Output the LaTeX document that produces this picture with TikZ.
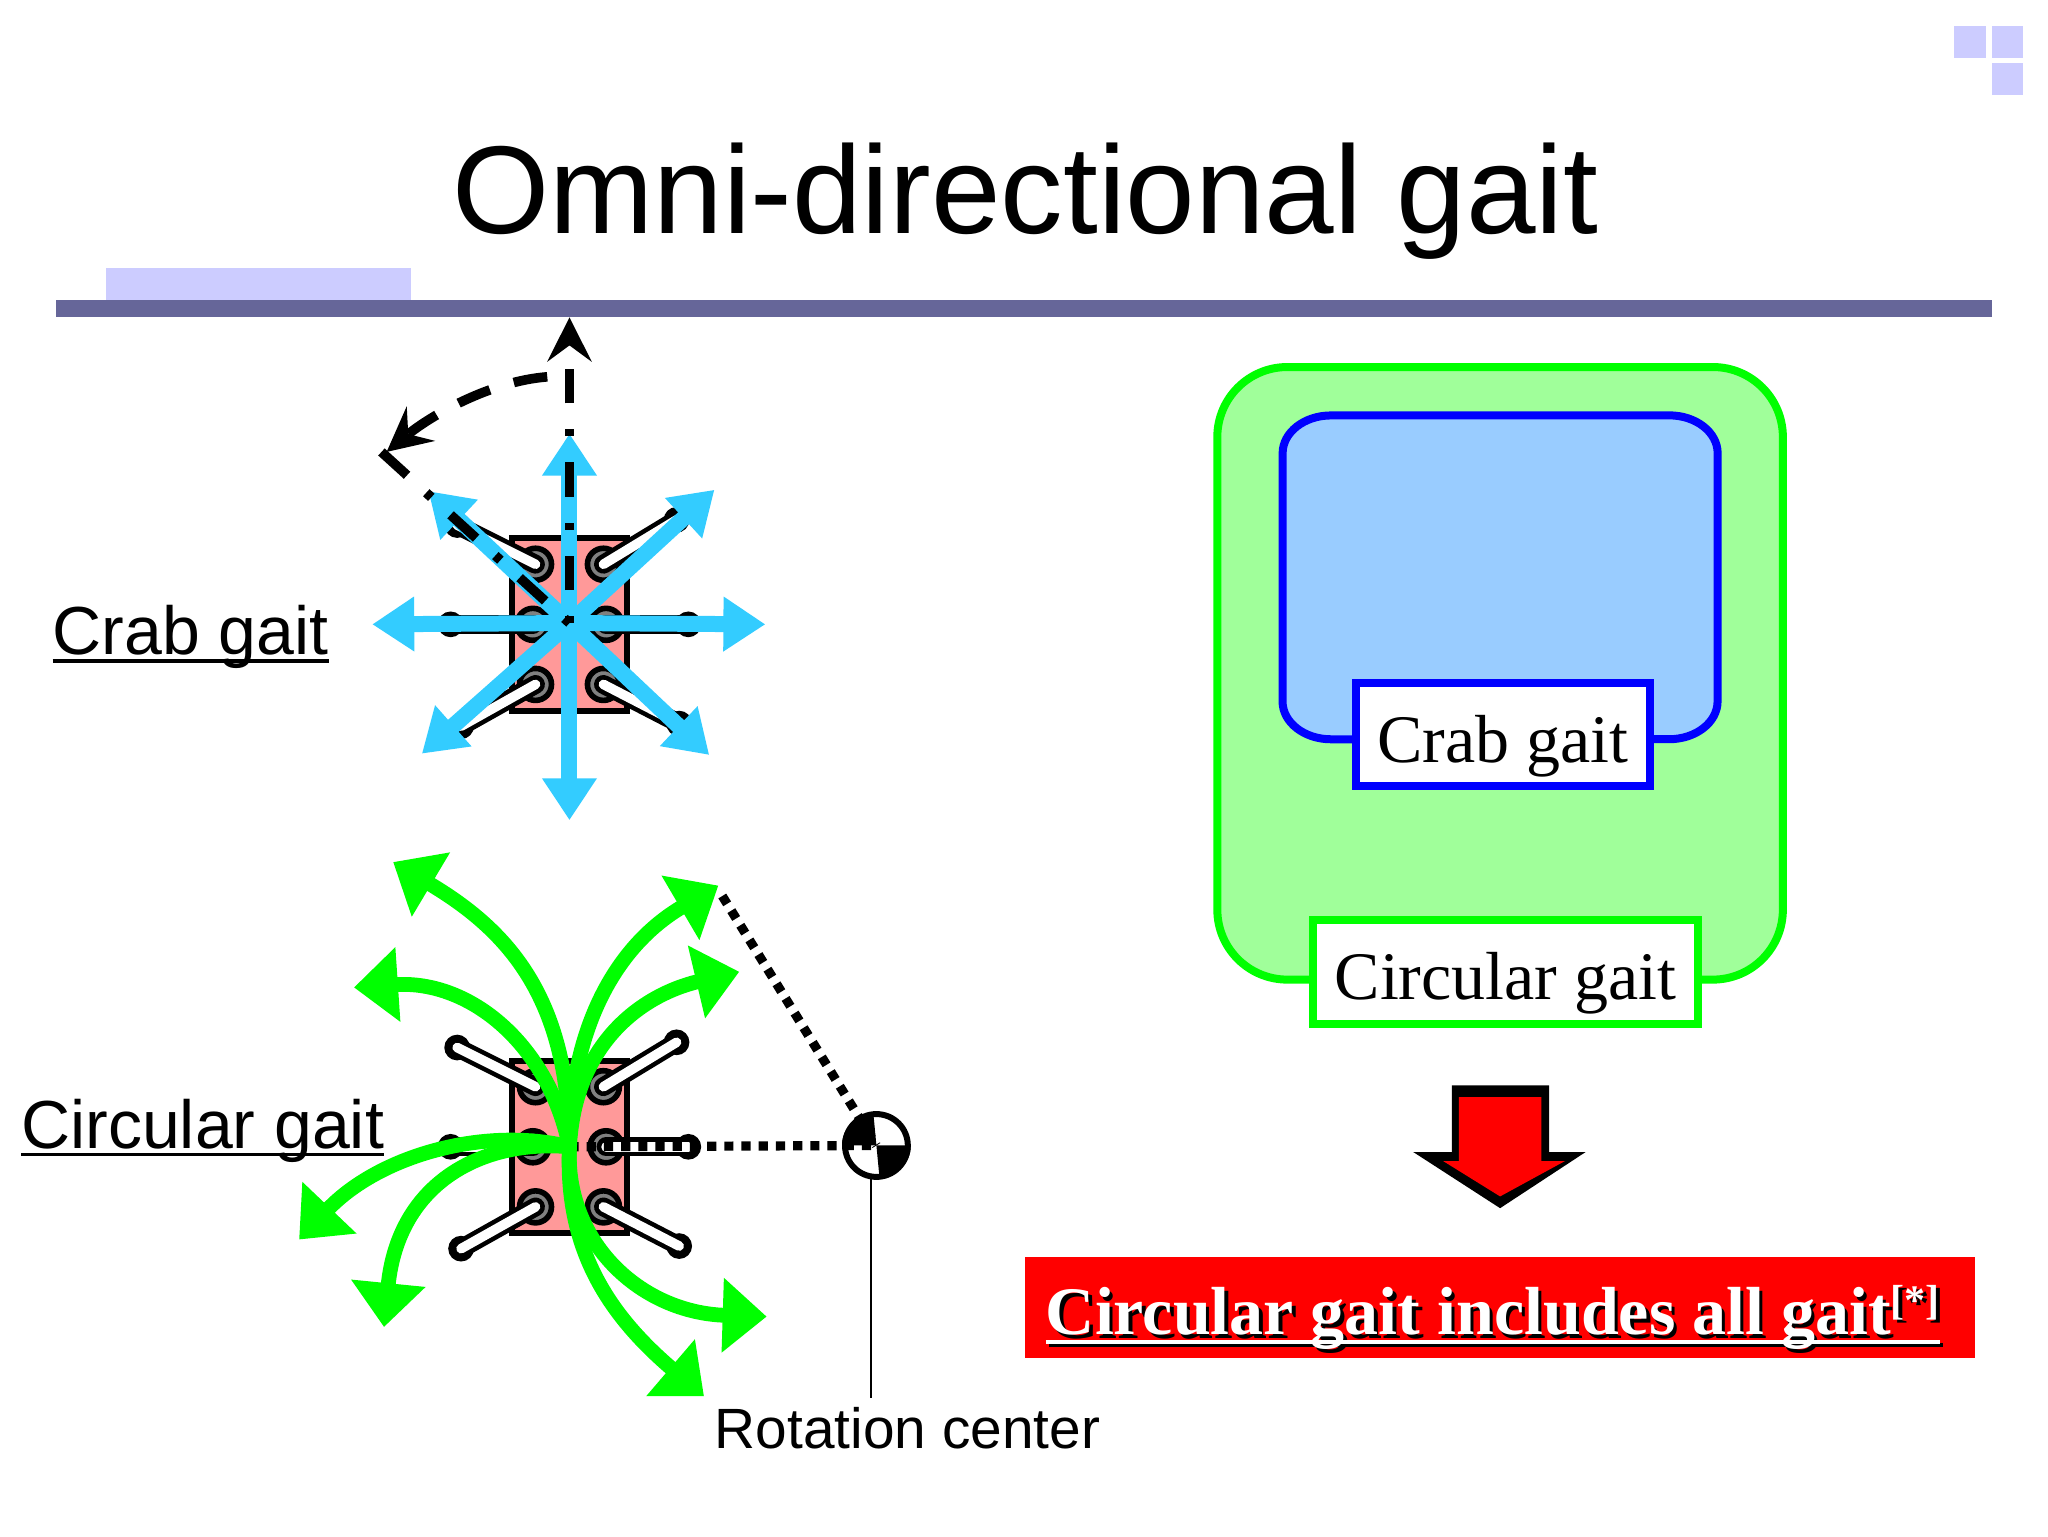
\documentclass[tikz,border=0pt]{standalone}
\usepackage{fontspec}
\setmainfont{Liberation Sans}
\newfontfamily\serifx{Liberation Serif}
\usetikzlibrary{arrows.meta}
\definecolor{rulec}{HTML}{666699}
\definecolor{lav}{HTML}{CCCCFF}
\definecolor{bluea}{HTML}{33CCFF}
\definecolor{greena}{HTML}{00FF00}
\definecolor{bodyc}{HTML}{FF9999}
\definecolor{greenfill}{HTML}{A0FF9A}
\definecolor{bluefill}{HTML}{99CCFF}
\definecolor{blueline}{HTML}{0000FF}
\newsavebox\ulbox
\newcommand\myul[3]{\sbox\ulbox{#1}\leavevmode\rlap{\raisebox{-#2}{\rule{\wd\ulbox}{#3}}}\usebox\ulbox}
\newcommand\robotdraw[2]{%
  \begin{scope}[shift={(#1,#2)}]
    \draw[bodybox] (-44,-66) rectangle (44,66);
    \foreach \jx/\jy/\fx/\fy in {-26/-46/-86/-76, 26/-46/82/-80, -28/0/-91/0, 28/0/91/0, -26/46/-83/78, 26/46/84/76}{
      \draw[jointdot] (\jx,\jy) circle[radius=8pt];
      \draw[footdot] (\fx,\fy) circle[radius=5pt];
      \draw[legout] (\jx,\jy) -- (\fx,\fy);
      \draw[legin] (\jx,\jy) -- (\fx,\fy);
    }
  \end{scope}}
\tikzset{
  bodybox/.style={draw=black,fill=bodyc,line width=3pt},
  jointdot/.style={draw=black,fill=gray,line width=2.8pt},
  footdot/.style={draw=black,fill=gray,line width=2.8pt},
  legout/.style={black,line width=9.4pt,line cap=round},
  legin/.style={white,line width=4.8pt,line cap=round},
  bluearrow/.style={bluea,line width=8pt,-{Triangle[length=21pt,width=26pt]}},
  greenarrow/.style={greena,line width=7.4pt,-{Triangle[length=22pt,width=36pt]}},
  dashline/.style={black,line width=4.8pt,dash pattern=on 3.4pt off 13pt on 17.3pt off 13pt},
  archline/.style={black,line width=4.8pt,dash pattern=on 17pt off 12.5pt},
  sharphead/.style={-{Stealth[length=22pt,width=22pt,inset=8pt]}},
  dotline/.style={black,line width=4.6pt,dash pattern=on 4.6pt off 4pt},
  sanslabel/.style={font=\fontsize{34}{40}\selectfont,inner sep=0pt,anchor=base west},
  seriflabel/.style={font=\serifx\fontsize{34}{40}\selectfont,fill=white,line width=4pt,inner sep=0pt,text height=31pt,text depth=3pt},
}
\begin{document}
\begin{tikzpicture}[x=0.65306pt,y=-0.65306pt]
\useasboundingbox (0,0) rectangle (1568,1176);
\fill[white] (0,0) rectangle (1568,1176);
% corner squares
\fill[lav] (1496,20) rectangle (1520.5,44.5);
\fill[lav] (1525,20) rectangle (1549,44.5);
\fill[lav] (1525,48) rectangle (1549,73);
% title
\node[inner sep=0pt,anchor=base,font=\fontsize{62.5}{70}\selectfont] (title) at (785,179) {Omni-directional gait};
\fill[lav] (81,205) rectangle (315,231);
\fill[rulec] (43,230) rectangle (1525,243);
% left labels
\node[sanslabel] (crablabel) at (40,501) {\myul{Crab gait}{0.12em}{1.7pt}};
\node[sanslabel] (circlabel) at (16,879) {\myul{Circular gait}{0.12em}{1.7pt}};
% crab robot
\robotdraw{436}{478}
\coordinate (cen) at (436,477);
\foreach \n/\tx/\ty in {u/436/332, ne/547/375, e/586/478, se/543/578, s/436/628, sw/323/577, w/285/478, nw/328/376}{
  \coordinate (b\n) at (\tx,\ty);
  \draw[bluearrow] (cen) -- (b\n);
}
\coordinate (dtop) at (436,243);
\coordinate (dnw) at (292,346);
\coordinate (arcs) at (419,288.5);
\coordinate (arce) at (296,346);
\draw[dashline,sharphead] (cen) -- (dtop);
\draw[dashline] (cen) -- (dnw);
\draw[archline,sharphead] (arcs) .. controls (375,292) and (330,318) .. (arce);
% circular robot
\robotdraw{436}{878}
\node[circle,draw=black,fill=white,line width=3pt,minimum size=31.4pt,inner sep=0pt] (rc) at (671,877) {};
\fill[black] (rc.center) -- (rc.west) arc[start angle=180,end angle=90,radius=15.7pt] -- cycle;
\fill[black] (rc.center) -- (rc.east) arc[start angle=0,end angle=-90,radius=15.7pt] -- cycle;
\coordinate (gcen) at (436,878);
\coordinate (dote) at (553,686);
\draw[dotline] (gcen) -- (rc.center);
\draw[dotline] (dote) -- (rc.center);
\node[sanslabel,font=\fontsize{28.4}{32}\selectfont] (rotlabel) at (547,1109) {Rotation center};
\coordinate (rline) at (667,1070);
\draw[black,line width=1.2pt] (667,899) -- (rline);
% green arrows
\foreach \n/\ax/\ay/\bx/\by/\tx/\ty in {
  a/436/760/385/710/301/660,
  b/420/800/360/750/271/756,
  c/436/790/470/725/550/678,
  d/440/800/490/762/566/744,
  e/370/862/290/885/229/949,
  f/370/872/305/905/294/1016,
  g/432/950/490/1005/587/1008,
  h/432/960/470/1010/539/1069}{
  \coordinate (t\n) at (\tx,\ty);
  \draw[greenarrow] (gcen) .. controls (\ax,\ay) and (\bx,\by) .. (t\n);
}
% right: nested boxes
\draw[draw=greena,fill=greenfill,line width=4pt,rounded corners=35pt] (932,281) rectangle (1365,750);
\draw[draw=blueline,fill=bluefill,line width=4pt]
  (982,347) arc[start angle=180,end angle=90,x radius=24.2pt,y radius=18.9pt]
  -- (1278,318) arc[start angle=90,end angle=0,x radius=24.2pt,y radius=18.9pt]
  -- (1315,537) arc[start angle=0,end angle=-90,x radius=24.2pt,y radius=18.9pt]
  -- (1019,566) arc[start angle=-90,end angle=-180,x radius=24.2pt,y radius=18.9pt]
  -- cycle;
\node[seriflabel,draw=blueline,minimum width=147pt,minimum height=51.6pt] (crabbox) at (1150.5,562.5) {Crab gait};
\node[seriflabel,draw=greena,minimum width=192.6pt,minimum height=52.2pt] (circbox) at (1152.7,744) {Circular gait};
% big arrow
\fill[black] (1111.5,831) -- (1186,831) -- (1186,882) -- (1214,882) -- (1148.5,925) -- (1082,882) -- (1111.5,882) -- cycle;
\fill[red] (1117,840) -- (1180,840) -- (1180,889) -- (1198,889) -- (1148.5,916) -- (1105,889) -- (1117,889) -- cycle;
% banner
\fill[red] (785,962) rectangle (1512,1040);
\newcommand\bannertext{\myul{Circular gait includes all gait\raisebox{0.3em}{\fontsize{21}{24}\selectfont[*]}}{0.13em}{1.8pt}}
\node[inner sep=0pt,anchor=base west,black,font=\serifx\bfseries\fontsize{34}{40}\selectfont] (bannershadow) at (803,1024.5) {\bannertext};
\node[inner sep=0pt,anchor=base west,white,font=\serifx\bfseries\fontsize{34}{40}\selectfont] (banner) at (800.5,1022) {\bannertext};
\end{tikzpicture}
\end{document}
